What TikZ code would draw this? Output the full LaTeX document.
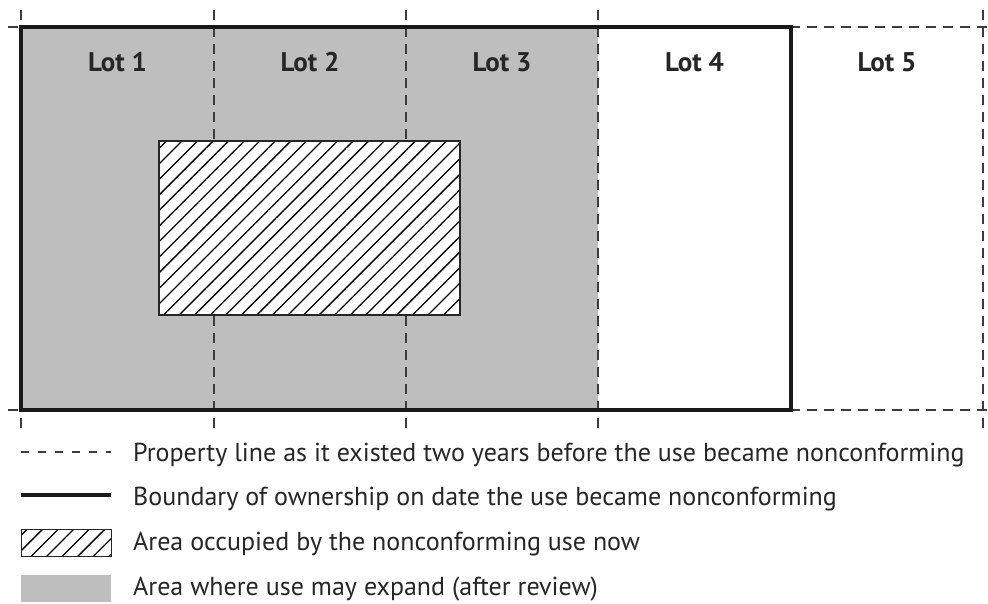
\documentclass[tikz,border=0pt]{standalone}
\usepackage{fontspec}
\setmainfont{PT Sans}
\usetikzlibrary{patterns.meta}
\definecolor{expandgray}{HTML}{BEBEBE}
\definecolor{lineink}{HTML}{3C3C3C}
\tikzset{
  propline/.style={lineink, line width=2pt, dash pattern=on 10pt off 7pt},
  ownline/.style={black!90, line width=4pt, line join=miter},
  hatchbox/.style={preaction={fill=white}, draw=black!85, line width=1.3pt,
    pattern={Lines[angle=45, distance=11pt, line width=1.3pt]}},
  lotlabel/.style={anchor=base, inner sep=0pt, font=\fontsize{27}{32}\selectfont\bfseries, text=black!85},
  legendtext/.style={anchor=base west, inner sep=0pt, font=\fontsize{26}{30}\selectfont, text=black!85}
}
\begin{document}
\begin{tikzpicture}[x=1pt, y=-1pt]
    \useasboundingbox (0,0) rectangle (988,603);
    % Area where use may expand
    \fill[expandgray] (21,27) rectangle (598,410);
    % Property lines
    \foreach \x in {214, 406, 598, 983}
        \draw[propline] (\x,10) -- (\x,428);
    \draw[propline] (21,10) -- (21,428);
    \draw[propline] (8,27) -- (988,27);
    \draw[propline] (8,410) -- (988,410);
    % Area occupied now
    \draw[hatchbox] (159,141) rectangle (460,315);
    % Ownership boundary
    \draw[ownline] (21,27) rectangle (791,410);
    % Lot labels
    \foreach \i/\x in {1/117.5, 2/310, 3/502, 4/694.5, 5/887}
        \node[lotlabel] (lot\i) at (\x,71) {Lot \i};
    % Legend
    \draw[propline, dash pattern=on 8pt off 9pt] (21,452) -- (111,452);
    \draw[ownline, line width=4.5pt] (21,495) -- (111,495);
    \draw[hatchbox, line width=1pt] (21,529) rectangle (111,556);
    \fill[expandgray] (21,575) rectangle (111,602);
    \node[legendtext] (keyprop) at (133,461) {Property line as it existed two years before the use became nonconforming};
    \node[legendtext] (keyown) at (133,505) {Boundary of ownership on date the use became nonconforming};
    \node[legendtext] (keyocc) at (133,550) {Area occupied by the nonconforming use now};
    \node[legendtext] (keyexp) at (133,595) {Area where use may expand (after review)};
\end{tikzpicture}
\end{document}
